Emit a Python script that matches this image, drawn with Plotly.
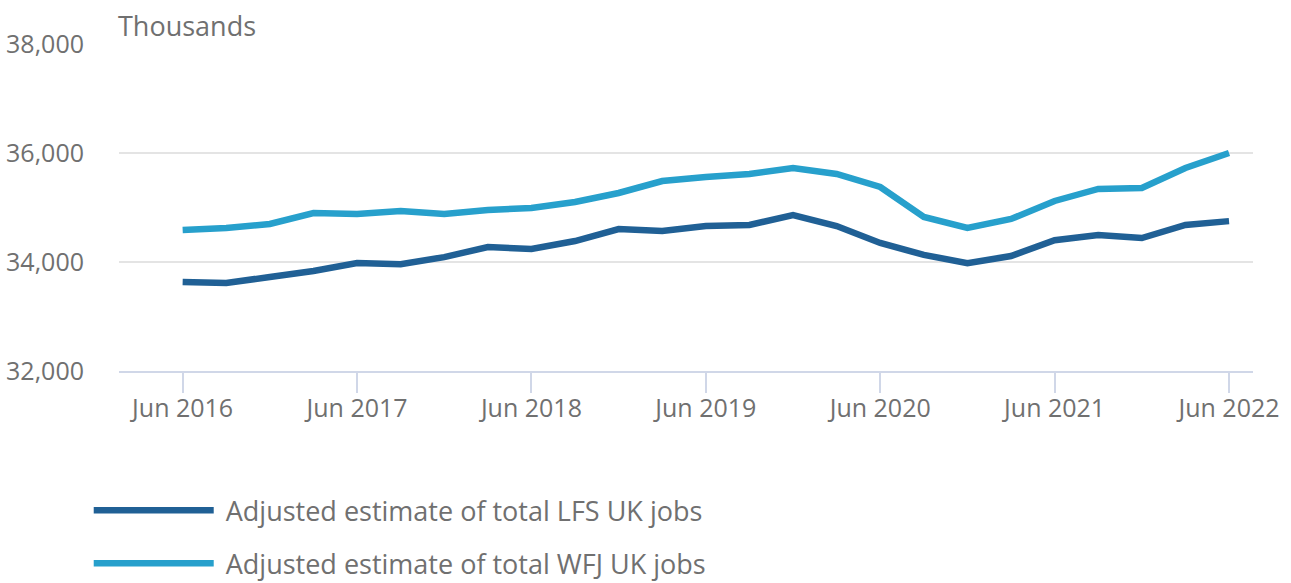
import plotly.graph_objects as go

quarters = ["Jun 2016","Sep 2016","Dec 2016","Mar 2017","Jun 2017","Sep 2017","Dec 2017",
            "Mar 2018","Jun 2018","Sep 2018","Dec 2018","Mar 2019","Jun 2019","Sep 2019",
            "Dec 2019","Mar 2020","Jun 2020","Sep 2020","Dec 2020","Mar 2021","Jun 2021",
            "Sep 2021","Dec 2021","Mar 2022","Jun 2022"]
lfs = [33633,33615,33725,33835,33980,33960,34090,34275,34240,34385,34605,34570,34660,34680,
       34860,34660,34350,34130,33980,34110,34400,34495,34440,34680,34750]
wfj = [34587,34624,34697,34899,34880,34935,34880,34954,34990,35100,35266,35486,35560,35615,
       35725,35615,35376,34826,34624,34789,35120,35340,35358,35725,36000]
tick_labels = ["Jun 2016","Jun 2017","Jun 2018","Jun 2019","Jun 2020","Jun 2021","Jun 2022"]
y_ticks = [32000,34000,36000,38000]

idx = list(range(len(quarters)))
tickvals = [quarters.index(t) for t in tick_labels]

TXT = "#707070"
fig = go.Figure()
fig.add_trace(go.Scatter(x=idx, y=lfs, mode="lines", name="\u00a0Adjusted estimate of total LFS UK jobs",
                         legendgroup="a", line=dict(color="#206095", width=6.5), text=quarters))
fig.add_trace(go.Scatter(x=idx, y=wfj, mode="lines", name="\u00a0Adjusted estimate of total WFJ UK jobs",
                         legendgroup="b", line=dict(color="#27a0cc", width=6.5), text=quarters))

fig.update_layout(
    width=1291, height=583,
    margin=dict(l=119, r=38, t=44, b=212, autoexpand=False),
    plot_bgcolor="white", paper_bgcolor="white",
    font=dict(family="Open Sans", size=25, color=TXT),
    showlegend=True,
    legend=dict(orientation="v", x=-0.0267, xanchor="left", y=-0.352, yanchor="top",
                font=dict(size=27, color=TXT), itemwidth=120, tracegroupgap=15),
    xaxis=dict(range=[-1.46, 24.55], tickvals=tickvals, ticktext=tick_labels,
               showgrid=False, showline=True, linecolor="#d0d7e8", linewidth=2,
               ticks="outside", ticklen=20, tickcolor="#d0d7e8", tickwidth=2,
               ticklabelstandoff=-6, automargin=False,
               tickfont=dict(size=25, color=TXT), zeroline=False),
    yaxis=dict(range=[32000, 38000], tickvals=y_ticks, tickformat=",",
               showgrid=True, gridcolor="#e4e4e4", gridwidth=2, zeroline=False,
               ticks="", ticklabelstandoff=34, automargin=False,
               tickfont=dict(size=25, color=TXT)),
    annotations=[dict(text="Thousands", xref="paper", yref="paper", x=0, y=1, xanchor="left",
                      yanchor="bottom", yshift=-2, xshift=-3, showarrow=False,
                      font=dict(size=27, color=TXT))],
)
fig.write_html("out.html")
